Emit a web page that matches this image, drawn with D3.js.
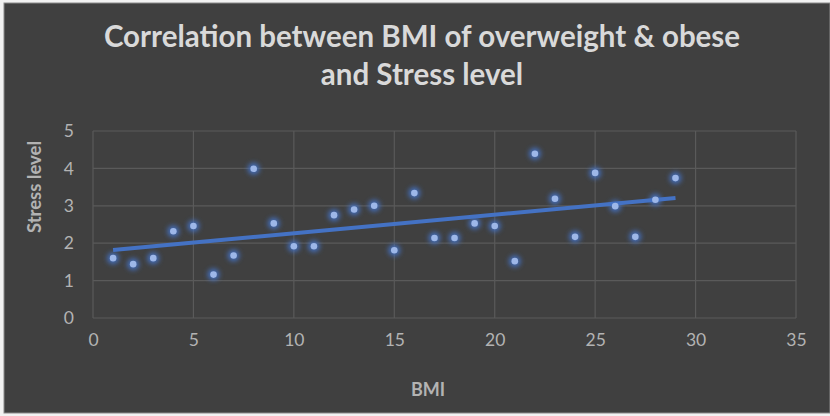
<!DOCTYPE html>
<html>
<head>
<meta charset="utf-8">
<script src="https://cdn.jsdelivr.net/npm/d3@7"></script>
<style>
  html, body { margin: 0; padding: 0; background: #f2f2f2; }
  svg { display: block; }
</style>
</head>
<body>
<svg class="chart" width="830" height="416"></svg>
<script>
// BMI rank (x) and stress level (y)
const bmi = [1, 2, 3, 4, 5, 6, 7, 8, 9, 10, 11, 12, 13, 14, 15, 16, 17, 18, 19, 20, 21, 22, 23, 24, 25, 26, 27, 28, 29];
const stress = [1.60, 1.44, 1.60, 2.32, 2.46, 1.16, 1.67, 3.99, 2.53, 1.92, 1.92, 2.75, 2.90, 3.00, 1.81, 3.34,
                 2.14, 2.14, 2.53, 2.46, 1.52, 4.39, 3.19, 2.17, 3.88, 2.99, 2.17, 3.16, 3.74];
const xTicks = [0, 5, 10, 15, 20, 25, 30, 35];
const yTicks = [0, 1, 2, 3, 4, 5];
const titleLines = ["Correlation between BMI of overweight & obese", "and Stress level"];

const svg = d3.select("svg.chart");
const margin = { top: 131, right: 34, bottom: 98, left: 93 };
const width = 830 - margin.left - margin.right;
const height = 416 - margin.top - margin.bottom;

// chart frame
svg.append("rect")
    .attr("x", 4).attr("y", 3)
    .attr("width", 826).attr("height", 410)
    .attr("fill", "#404040")
    .attr("stroke", "#8a8a8a").attr("stroke-width", 1);

const defs = svg.append("defs");
const glow = defs.append("filter").attr("id", "glow")
    .attr("x", "-100%").attr("y", "-100%").attr("width", "300%").attr("height", "300%");
glow.append("feGaussianBlur").attr("stdDeviation", 2.4);

svg.selectAll("text.title")
    .data(titleLines)
    .enter().append("text")
    .attr("class", "title")
    .attr("x", 422)
    .attr("y", (d, i) => 47 + i * 38)
    .attr("text-anchor", "middle")
    .attr("font-family", "Lato, sans-serif")
    .attr("font-weight", "bold")
    .attr("font-size", 29.5)
    .attr("fill", "#d9d9d9")
    .text(d => d);

const g = svg.append("g").attr("transform", `translate(${margin.left}, ${margin.top})`);

const x = d3.scaleLinear().domain([0, 35]).range([0, width]);
const y = d3.scaleLinear().domain([0, 5]).range([height, 0]);

// gridlines
g.append("g")
    .selectAll("line")
    .data(yTicks)
    .enter().append("line")
    .attr("x1", 0).attr("x2", width)
    .attr("y1", d => y(d)).attr("y2", d => y(d))
    .attr("stroke", "#5a5a5a").attr("stroke-width", 1.2);

g.append("g")
    .selectAll("line")
    .data(xTicks)
    .enter().append("line")
    .attr("x1", d => x(d)).attr("x2", d => x(d))
    .attr("y1", 0).attr("y2", height)
    .attr("stroke", "#5a5a5a").attr("stroke-width", 1.2);

// axes (labels only)
const xAxis = g.append("g")
    .attr("transform", `translate(0, ${height})`)
    .call(d3.axisBottom(x).tickValues(xTicks).tickFormat(d3.format("d")).tickSize(0).tickPadding(16));
const yAxis = g.append("g")
    .call(d3.axisLeft(y).tickValues(yTicks).tickFormat(d3.format("d")).tickSize(0).tickPadding(19));
[xAxis, yAxis].forEach(a => {
    a.select(".domain").remove();
    a.selectAll("text")
        .attr("font-family", "Lato, sans-serif")
        .attr("font-size", 17.5)
        .attr("fill", "#b3b3b3");
});

// linear trendline (least squares)
const mx = d3.mean(bmi), my = d3.mean(stress);
const slope = d3.sum(bmi, (d, i) => (d - mx) * (stress[i] - my)) / d3.sum(bmi, d => (d - mx) * (d - mx));
const icept = my - slope * mx;
const ends = d3.extent(bmi);

const pts = bmi.map((d, i) => ({ x: d, y: stress[i] }));

// point glow
g.append("g")
    .selectAll("circle")
    .data(pts)
    .enter().append("circle")
    .attr("cx", d => x(d.x)).attr("cy", d => y(d.y))
    .attr("r", 6)
    .attr("fill", "#4472c4")
    .attr("opacity", 0.9)
    .attr("filter", "url(#glow)");

g.append("line")
    .attr("x1", x(ends[0])).attr("y1", y(icept + slope * ends[0]))
    .attr("x2", x(ends[1])).attr("y2", y(icept + slope * ends[1]))
    .attr("stroke", "#4472c4")
    .attr("stroke-width", 4);

g.append("g")
    .selectAll("circle")
    .data(pts)
    .enter().append("circle")
    .attr("cx", d => x(d.x)).attr("cy", d => y(d.y))
    .attr("r", 3.3)
    .attr("fill", "#9db7e8");

// axis titles
svg.append("text")
    .attr("x", 428).attr("y", 396)
    .attr("text-anchor", "middle")
    .attr("font-family", "Lato, sans-serif")
    .attr("font-weight", "bold")
    .attr("font-size", 18)
    .attr("fill", "#b3b3b3")
    .text("BMI");

svg.append("text")
    .attr("transform", "translate(41, 187) rotate(-90)")
    .attr("text-anchor", "middle")
    .attr("font-family", "Lato, sans-serif")
    .attr("font-weight", "bold")
    .attr("font-size", 18.5)
    .attr("fill", "#b3b3b3")
    .text("Stress level");
</script>
</body>
</html>
